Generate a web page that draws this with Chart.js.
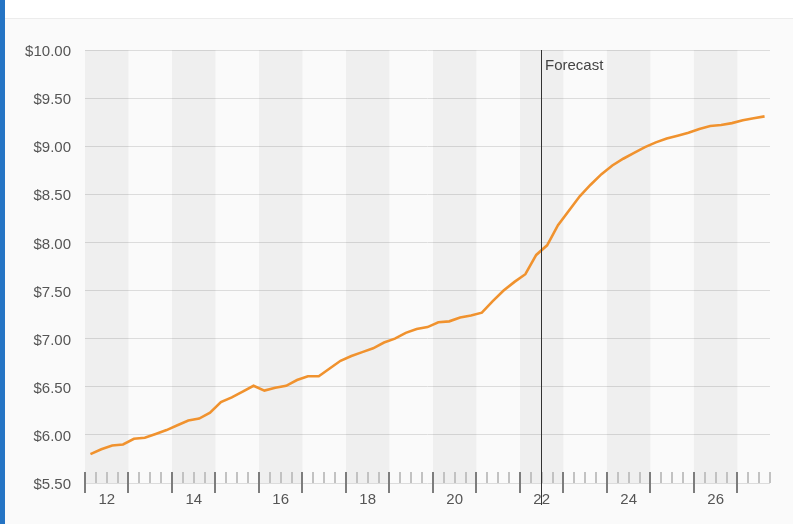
<!DOCTYPE html>
<html>
<head>
<meta charset="utf-8">
<script src="https://cdn.jsdelivr.net/npm/chart.js@4.4.1/dist/chart.umd.min.js"></script>
<style>
  html, body { margin: 0; padding: 0; }
  body { width: 793px; height: 524px; background: #fafafa; position: relative; overflow: hidden; }
  #header { position: absolute; left: 0; top: 0; width: 793px; height: 18px; background: #fff; border-bottom: 1px solid #ececec; }
  #bar { position: absolute; left: 0; top: 0; width: 5px; height: 524px; background: #2574c4; z-index: 2; }
  #wrap { position: absolute; left: 5px; top: 19px; width: 788px; height: 505px; }
</style>
</head>
<body>
<div id="header"></div>
<div id="bar"></div>
<div id="wrap"><canvas id="chart"></canvas></div>
<script>
// quarterly price, 2012 Q1 .. 2027 Q3
const quarters = [
  "12Q1","12Q2","12Q3","12Q4","13Q1","13Q2","13Q3","13Q4",
  "14Q1","14Q2","14Q3","14Q4","15Q1","15Q2","15Q3","15Q4",
  "16Q1","16Q2","16Q3","16Q4","17Q1","17Q2","17Q3","17Q4",
  "18Q1","18Q2","18Q3","18Q4","19Q1","19Q2","19Q3","19Q4",
  "20Q1","20Q2","20Q3","20Q4","21Q1","21Q2","21Q3","21Q4",
  "22Q1","22Q2","22Q3","22Q4","23Q1","23Q2","23Q3","23Q4",
  "24Q1","24Q2","24Q3","24Q4","25Q1","25Q2","25Q3","25Q4",
  "26Q1","26Q2","26Q3","26Q4","27Q1","27Q2","27Q3"
];
const prices = [
  5.80, 5.85, 5.89, 5.90, 5.96, 5.97, 6.01, 6.05,
  6.10, 6.15, 6.17, 6.23, 6.34, 6.39, 6.45, 6.51,
  6.46, 6.49, 6.51, 6.57, 6.61, 6.61, 6.69, 6.77,
  6.82, 6.86, 6.90, 6.96, 7.00, 7.06, 7.10, 7.12,
  7.17, 7.18, 7.22, 7.24, 7.27, 7.39, 7.50, 7.59,
  7.67, 7.87, 7.97, 8.18, 8.33, 8.48, 8.60, 8.71,
  8.80, 8.87, 8.93, 8.99, 9.04, 9.08, 9.11, 9.14,
  9.18, 9.21, 9.22, 9.24, 9.27, 9.29, 9.31
];
const yearLabels = ["12","14","16","18","20","22","24","26"];
const yTicks = [5.5, 6, 6.5, 7, 7.5, 8, 8.5, 9, 9.5, 10];
const forecastStart = "22Q3";

const firstYear = 2012;
const lastYear = 2027;

function quarterToX(q) {
  const year = 2000 + parseInt(q.slice(0, 2), 10);
  const n = parseInt(q.slice(3), 10);
  return year + (n - 1) / 4;
}

const points = quarters.map((q, i) => ({ x: quarterToX(q) + 0.125, y: prices[i] }));

// year bands, quarter ticks and the forecast marker
const decorations = {
  id: "decorations",
  beforeDatasetsDraw(chart) {
    const { ctx, chartArea: a, scales: { x } } = chart;
    ctx.save();
    for (let yr = firstYear; yr <= lastYear; yr += 2) {
      const x0 = x.getPixelForValue(yr);
      const x1 = Math.min(x.getPixelForValue(yr + 1), a.right);
      ctx.fillStyle = "rgba(0,0,0,0.045)";
      ctx.fillRect(x0, a.top, x1 - x0, a.bottom - a.top);
    }
    ctx.restore();
  },
  afterDraw(chart) {
    const { ctx, chartArea: a, scales: { x } } = chart;
    ctx.save();
    ctx.lineWidth = 2;
    for (let v = firstYear; v <= x.max + 0.001; v += 0.25) {
      const px = Math.round(x.getPixelForValue(v));
      const major = Math.abs(v - Math.round(v)) < 0.001;
      ctx.strokeStyle = major ? "#7d7d7d" : "#c2c2c2";
      ctx.beginPath();
      ctx.moveTo(px, a.bottom - 11);
      ctx.lineTo(px, a.bottom + (major ? 10 : 0));
      ctx.stroke();
    }
    const fx = Math.round(x.getPixelForValue(quarterToX(forecastStart))) - 0.5;
    ctx.strokeStyle = "#333";
    ctx.lineWidth = 1;
    ctx.beginPath();
    ctx.moveTo(fx, a.top);
    ctx.lineTo(fx, a.bottom + 22);
    ctx.stroke();
    ctx.fillStyle = "#444";
    ctx.font = "15px 'Liberation Sans', Arial, sans-serif";
    ctx.textBaseline = "middle";
    ctx.fillText("Forecast", fx + 3.5, a.top + 16);
    ctx.restore();
  }
};

new Chart(document.getElementById("chart"), {
  type: "line",
  data: {
    datasets: [{
      data: points,
      borderColor: "#f0922e",
      borderWidth: 2.6,
      pointRadius: 0,
      tension: 0,
      fill: false
    }]
  },
  options: {
    responsive: true,
    maintainAspectRatio: false,
    animation: false,
    layout: { padding: { top: 31, right: 23, bottom: 0, left: 0 } },
    plugins: {
      legend: { display: false },
      tooltip: { enabled: false }
    },
    scales: {
      x: {
        type: "linear",
        min: firstYear,
        max: 2027.75,
        grid: { display: false },
        border: { display: false },
        afterBuildTicks: (s) => { s.ticks = yearLabels.map((l, i) => ({ value: firstYear + 0.5 + 2 * i })); },
        afterFit: (s) => { s.height = 41; },
        ticks: {
          autoSkip: false,
          maxRotation: 0,
          padding: 0,
          color: "#555",
          font: { family: "'Liberation Sans', Arial, sans-serif", size: 15 },
          callback: (v, i) => yearLabels[i]
        }
      },
      y: {
        min: 5.5,
        max: 10,
        grid: { color: "#dcdcdc", lineWidth: 1, drawTicks: false },
        border: { display: false },
        afterBuildTicks: (s) => { s.ticks = yTicks.map(v => ({ value: v })); },
        afterFit: (s) => { s.width = 80; },
        ticks: {
          padding: 14,
          labelOffset: 2,
          color: "#555",
          font: { family: "'Liberation Sans', Arial, sans-serif", size: 15 },
          callback: (v) => "$" + Number(v).toFixed(2)
        }
      }
    }
  },
  plugins: [decorations]
});
</script>
</body>
</html>
